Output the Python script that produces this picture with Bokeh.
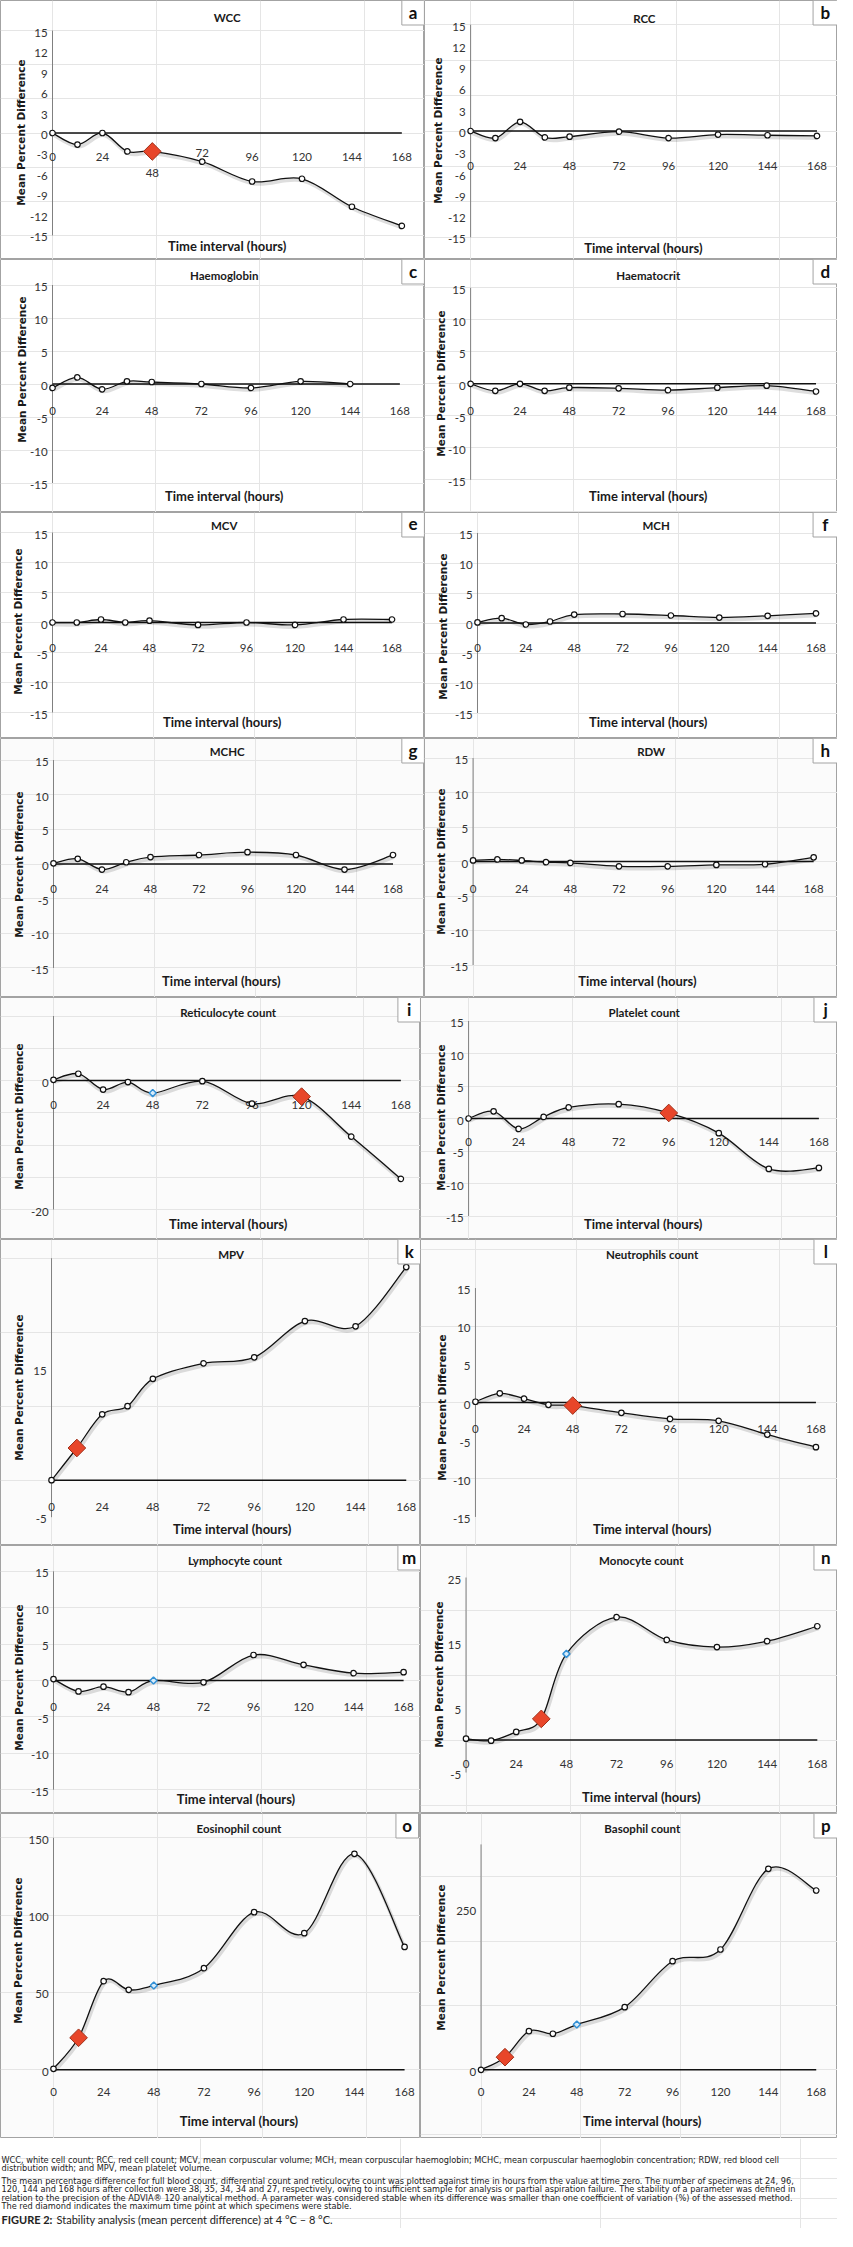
import math
from bokeh.plotting import figure
from bokeh.layouts import column, row
from bokeh.models import Range1d
from bokeh.core.properties import value
from bokeh.embed import file_html
from bokeh.resources import INLINE

# ---------------- data ----------------
hours = [0, 12, 24, 36, 48, 72, 96, 120, 144, 168]
hours_hb = [0, 12, 24, 36, 48, 72, 96, 120, 144]
x_ticks = [0, 24, 48, 72, 96, 120, 144, 168]
x_tick_labels = ["0", "24", "48", "72", "96", "120", "144", "168"]

y_ticks_3 = [-15, -12, -9, -6, -3, 0, 3, 6, 9, 12, 15]
y_ticks_5 = [-15, -10, -5, 0, 5, 10, 15]
y_ticks_retic = [-20, 0]
y_ticks_mpv = [-5, 15]
y_ticks_mono = [-5, 5, 15, 25]
y_ticks_eos = [0, 50, 100, 150]
y_ticks_baso = [0, 250]

wcc = [0.0, -1.7, 0.0, -2.7, -2.7, -4.2, -7.1, -6.7, -10.8, -13.6]
rcc = [0.0, -1.0, 1.3, -0.9, -0.8, -0.1, -1.0, -0.5, -0.6, -0.7]
haemoglobin = [-0.6, 1.0, -0.8, 0.4, 0.3, 0.0, -0.6, 0.4, 0.0]
haematocrit = [0.0, -1.1, 0.0, -1.1, -0.6, -0.7, -1.0, -0.6, -0.3, -1.2]
mcv = [0.0, 0.0, 0.5, 0.0, 0.3, -0.4, 0.0, -0.4, 0.5, 0.5]
mch = [0.1, 0.8, -0.25, 0.25, 1.4, 1.5, 1.25, 0.9, 1.2, 1.6]
mchc = [0.1, 0.75, -0.8, 0.25, 1.0, 1.3, 1.7, 1.3, -0.8, 1.3]
rdw = [0.15, 0.3, 0.15, -0.1, -0.2, -0.7, -0.7, -0.5, -0.4, 0.6]
reticulocyte = [0.1, 1.05, -1.4, -0.25, -1.95, -0.1, -3.6, -2.5, -8.7, -15.25]
platelet = [0.0, 1.1, -1.6, 0.25, 1.7, 2.2, 0.85, -2.25, -7.75, -7.6]
mpv = [0.0, 4.35, 8.9, 10.0, 13.7, 15.8, 16.6, 21.5, 20.8, 28.8]
neutrophils = [0.1, 1.2, 0.5, -0.3, -0.4, -1.35, -2.15, -2.4, -4.2, -5.85]
lymphocyte = [0.2, -1.5, -0.85, -1.6, 0.0, -0.25, 3.5, 2.15, 1.0, 1.15]
monocyte = [0.2, -0.1, 1.25, 3.25, 13.25, 18.9, 15.4, 14.3, 15.2, 17.5]
eosinophil = [0.6, 20.7, 57.3, 51.7, 54.5, 65.7, 101.9, 88.3, 139.6, 79.4]
basophil = [0.0, 19.6, 60.0, 56.0, 70.3, 97.3, 168.6, 186.8, 312.0, 278.4]

panels = [
    dict(key="a", title="WCC", x=hours, y=wcc, yticks=y_ticks_3, ylim=(-15, 15), stable=48, blue=None),
    dict(key="b", title="RCC", x=hours, y=rcc, yticks=y_ticks_3, ylim=(-15, 15), stable=None, blue=None),
    dict(key="c", title="Haemoglobin", x=hours_hb, y=haemoglobin, yticks=y_ticks_5, ylim=(-15, 15), stable=None, blue=None),
    dict(key="d", title="Haematocrit", x=hours, y=haematocrit, yticks=y_ticks_5, ylim=(-15, 15), stable=None, blue=None),
    dict(key="e", title="MCV", x=hours, y=mcv, yticks=y_ticks_5, ylim=(-15, 15), stable=None, blue=None),
    dict(key="f", title="MCH", x=hours, y=mch, yticks=y_ticks_5, ylim=(-15, 15), stable=None, blue=None),
    dict(key="g", title="MCHC", x=hours, y=mchc, yticks=y_ticks_5, ylim=(-15, 15), stable=None, blue=None),
    dict(key="h", title="RDW", x=hours, y=rdw, yticks=y_ticks_5, ylim=(-15, 15), stable=None, blue=None),
    dict(key="i", title="Reticulocyte count", x=hours, y=reticulocyte, yticks=y_ticks_retic, ylim=(-20, 10), stable=120, blue=48),
    dict(key="j", title="Platelet count", x=hours, y=platelet, yticks=y_ticks_5, ylim=(-15, 15), stable=96, blue=None),
    dict(key="k", title="MPV", x=hours, y=mpv, yticks=y_ticks_mpv, ylim=(-5, 30), stable=12, blue=None),
    dict(key="l", title="Neutrophils count", x=hours, y=neutrophils, yticks=y_ticks_5, ylim=(-15, 15), stable=48, blue=None),
    dict(key="m", title="Lymphocyte count", x=hours, y=lymphocyte, yticks=y_ticks_5, ylim=(-15, 15), stable=None, blue=48),
    dict(key="n", title="Monocyte count", x=hours, y=monocyte, yticks=y_ticks_mono, ylim=(-5, 25), stable=36, blue=48),
    dict(key="o", title="Eosinophil count", x=hours, y=eosinophil, yticks=y_ticks_eos, ylim=(0, 150), stable=12, blue=48),
    dict(key="p", title="Basophil count", x=hours, y=basophil, yticks=y_ticks_baso, ylim=(0, 350), stable=12, blue=48),
]

caption_lines = [
    "WCC, white cell count; RCC, red cell count; MCV, mean corpuscular volume; MCH, mean corpuscular haemoglobin; MCHC, mean corpuscular haemoglobin concentration; RDW, red blood cell",
    "distribution width; and MPV, mean platelet volume.",
    "The mean percentage difference for full blood count, differential count and reticulocyte count was plotted against time in hours from the value at time zero. The number of specimens at 24, 96,",
    "120, 144 and 168 hours after collection were 38, 35, 34, 34 and 27, respectively, owing to insufficient sample for analysis or partial aspiration failure. The stability of a parameter was defined in",
    "relation to the precision of the ADVIA\u00ae 120 analytical method. A parameter was considered stable when its difference was smaller than one coefficient of variation (%) of the assessed method.",
    "The red diamond indicates the maximum time point at which specimens were stable.",
]
figure_label = "FIGURE 2:"
figure_title = "Stability analysis (mean percent difference) at 4 \u00b0C \u2013 8 \u00b0C."

# ---------------- layout / style (pixel geometry, reference px) ----------------
F = 837.0 / 853.0
NARROW = "Lato"
WIDE = "DejaVu Sans"
row_heights = [259, 253, 226, 259, 242, 306, 268, 325]
col_widths = [(424, 413)] * 4 + [(420, 417)] * 4
backgrounds = ["#ffffff"] * 3 + ["#fbfbfb"] * 5

geom = {
    "a": dict(x0=53, x1=409, zero=132.5, sy=6.83, ty=17, tx=231, box=(409, 432), yl=(20.5, 132), xl=(231, 245), off=23.5),
    "b": dict(x0=47, x1=400, zero=130.5, sy=7.09, ty=18, tx=224, box=(396, 421), yl=(14, 130), xl=(223, 247), off=34.5),
    "c": dict(x0=53, x1=407, zero=124.5, sy=6.6, ty=16, tx=228, box=(409, 432), yl=(22, 110), xl=(228, 236), off=26.5),
    "d": dict(x0=47, x1=399, zero=124.3, sy=6.4, ty=16, tx=228, box=(396, 421), yl=(17, 124), xl=(228, 236), off=27),
    "e": dict(x0=53, x1=399, zero=110, sy=6.0, ty=13, tx=228, box=(409, 432), yl=(18, 109), xl=(226, 209), off=25),
    "f": dict(x0=54, x1=399, zero=110.5, sy=6.0, ty=13, tx=236, box=(396, 421), yl=(19, 114), xl=(228, 209), off=25),
    "g": dict(x0=54, x1=400, zero=125.5, sy=6.93, ty=13, tx=231, box=(409, 432), yl=(19, 126), xl=(225, 242), off=25),
    "h": dict(x0=49.5, x1=396.6, zero=123, sy=6.9, ty=13, tx=231, box=(396, 421), yl=(17, 123), xl=(217, 242), off=27),
    "i": dict(x0=54, x1=408, zero=83, sy=6.45, ty=15, tx=232, box=(405, 428), yl=(19, 119), xl=(232, 226), off=24),
    "j": dict(x0=49, x1=406, zero=121, sy=6.5, ty=15, tx=228, box=(401, 425), yl=(21, 120), xl=(227, 226), off=23.5),
    "k": dict(x0=52, x1=413.5, zero=240.7, sy=7.4, ty=15, tx=235, box=(405, 428), yl=(19, 148), xl=(236, 289), off=26.7),
    "l": dict(x0=56, x1=403, zero=163, sy=7.63, ty=15, tx=236, box=(401, 425), yl=(22, 168), xl=(236, 289), off=26),
    "m": dict(x0=54, x1=410.8, zero=135, sy=7.28, ty=15, tx=239, box=(405, 428), yl=(19, 132), xl=(240, 253), off=26),
    "n": dict(x0=46.4, x1=404.4, zero=194.5, sy=6.5, ty=15, tx=225, box=(401, 425), yl=(19, 129), xl=(225, 251), off=24),
    "o": dict(x0=54, x1=411.8, zero=256.3, sy=1.547, ty=15, tx=243, box=(403, 426), yl=(18, 137), xl=(243, 307), off=22),
    "p": dict(x0=61.7, x1=403.3, zero=256.3, sy=0.644, ty=15, tx=226, box=(401, 425), yl=(21, 144), xl=(226, 307), off=22),
}
special_offsets = {"a": {48: 40, 72: 19.5}}


def bezier_parts(xs, ys):
    xs = [float(v) for v in xs]
    ys = [float(v) for v in ys]
    n = len(xs)
    out = {k: [] for k in ("x0", "y0", "x1", "y1", "cx0", "cy0", "cx1", "cy1")}
    for i in range(n - 1):
        a = max(i - 1, 0)
        d = min(i + 2, n - 1)
        out["x0"].append(xs[i]); out["y0"].append(ys[i])
        out["x1"].append(xs[i + 1]); out["y1"].append(ys[i + 1])
        out["cx0"].append(xs[i] + (xs[i + 1] - xs[a]) / 6.0)
        out["cy0"].append(ys[i] + (ys[i + 1] - ys[a]) / 6.0)
        out["cx1"].append(xs[i + 1] - (xs[d] - xs[i]) / 6.0)
        out["cy1"].append(ys[i + 1] - (ys[d] - ys[i]) / 6.0)
    return out


def make_panel(spec, w, h, bg):
    g = geom[spec["key"]]
    x0 = g["x0"] * F
    x1 = g["x1"] * F
    sx = (x1 - x0) / 168.0
    zero = g["zero"]
    sy = g["sy"]

    def X(px):
        return (px * F - x0) / sx

    def Y(py):
        return (zero - py) / sy

    p = figure(width=w, height=h, x_range=Range1d(X(0), X(w / F)), y_range=Range1d(Y(h), Y(0)),
               output_backend="svg", toolbar_location=None, x_axis_location=None, y_axis_location=None,
               min_border=0, background_fill_color=bg, border_fill_color=bg,
               outline_line_color="#a3a3a3", outline_line_width=1)

    def txt(px, py, s, size, font=NARROW, bold=False, align="center", angle=0.0, color="#1a1a1a"):
        p.text(x=[X(px)], y=[Y(py)], text=[s], text_font=value(font), text_font_size=f"{size}px",
               text_font_style="bold" if bold else "normal", text_align=align, text_baseline="middle",
               angle=angle, text_color=color)

    ymin, ymax = spec["ylim"]
    # y axis line and x axis line at zero
    p.segment(x0=[0], y0=[ymin], x1=[0], y1=[ymax], line_color="#808080", line_width=1)
    p.segment(x0=[0], y0=[0], x1=[x_ticks[-1]], y1=[0], line_color="#111111", line_width=1.5)

    # y tick labels
    yt = spec["yticks"]
    p.text(x=[X(g["x0"] - 5)] * len(yt), y=[v - 2.0 / sy for v in yt], text=[str(v) for v in yt],
           text_font=value(NARROW), text_font_size="11.5px", text_align="right", text_baseline="middle",
           text_color="#333333")
    # x tick labels
    offs = special_offsets.get(spec["key"], {})
    p.text(x=x_ticks, y=[-offs.get(t, g["off"]) / sy for t in x_ticks], text=x_tick_labels,
           text_font=value(NARROW), text_font_size="11.5px", text_align="center", text_baseline="middle",
           text_color="#333333")

    # smoothed series with a soft shadow
    bz = bezier_parts(spec["x"], spec["y"])
    dxs, dys = 1.2 / sx, -2.2 / sy
    shadow = {k: [v + (dxs if k.startswith(("x", "cx")) else dys) for v in vals] for k, vals in bz.items()}
    p.bezier(**shadow, line_color="#000000", line_alpha=0.13, line_width=3.5)
    p.bezier(**bz, line_color="#111111", line_width=1.3)

    xs_c = [xv for xv in spec["x"] if xv != spec["stable"] and xv != spec["blue"]]
    ys_c = [yv for xv, yv in zip(spec["x"], spec["y"]) if xv != spec["stable"] and xv != spec["blue"]]
    p.scatter(xs_c, ys_c, marker="circle", size=5.5, fill_color="white", line_color="#111111", line_width=1.2)
    if spec["blue"] is not None:
        yb = [yv for xv, yv in zip(spec["x"], spec["y"]) if xv == spec["blue"]]
        p.scatter([spec["blue"]], yb, marker="square", angle=math.pi / 4, size=5, fill_color="#d8ecfa",
                  line_color="#3391d6", line_width=1.5)
    if spec["stable"] is not None:
        ys_s = [yv for xv, yv in zip(spec["x"], spec["y"]) if xv == spec["stable"]]
        p.scatter([spec["stable"]], ys_s, marker="square", angle=math.pi / 4, size=12.5,
                  fill_color="#e8462a", line_color="#a0301a", line_width=1)

    # titles, letter box, axis titles
    txt(g["tx"], g["ty"], spec["title"], 11.5, bold=True)
    bx0, bx1 = g["box"]
    p.quad(left=[X(bx0)], right=[X(bx1)], top=[Y(0)], bottom=[Y(24.5)], fill_color="white",
           line_color="#a3a3a3", line_width=1)
    txt((bx0 + bx1) / 2.0, 11.5, spec["key"], 17, bold=True, color="#111111")
    txt(g["yl"][0], g["yl"][1], "Mean Percent Difference", 10.5, font=WIDE, bold=True, angle=math.pi / 2)
    txt(g["xl"][0], g["xl"][1], "Time interval (hours)", 13, bold=True)
    return p


rows = []
for r in range(8):
    left = make_panel(panels[2 * r], col_widths[r][0], row_heights[r], backgrounds[r])
    right = make_panel(panels[2 * r + 1], col_widths[r][1], row_heights[r], backgrounds[r])
    rows.append(row(left, right))

# caption
cap_h = 90
cap = figure(width=837, height=cap_h, x_range=Range1d(0, 837), y_range=Range1d(cap_h, 0),
             output_backend="svg", toolbar_location=None, x_axis_location=None, y_axis_location=None,
             min_border=0, outline_line_color=None, background_fill_color="white", border_fill_color="white")
cap_y = [21, 29.5, 42, 50.5, 59, 67.5]
cap.text(x=[1] * len(caption_lines), y=cap_y, text=caption_lines, text_font=value(WIDE),
         text_font_size="8.2px", text_baseline="middle", text_align="left", text_color="#222222")
cap.text(x=[1], y=[81], text=[figure_label], text_font=value(NARROW), text_font_size="11px",
         text_font_style="bold", text_baseline="middle", text_color="#222222")
cap.text(x=[56], y=[81], text=[figure_title], text_font=value(NARROW), text_font_size="11px",
         text_baseline="middle", text_color="#222222")
rows.append(cap)

layout = column(*rows)
open("out.html", "w").write(file_html(layout, INLINE))
